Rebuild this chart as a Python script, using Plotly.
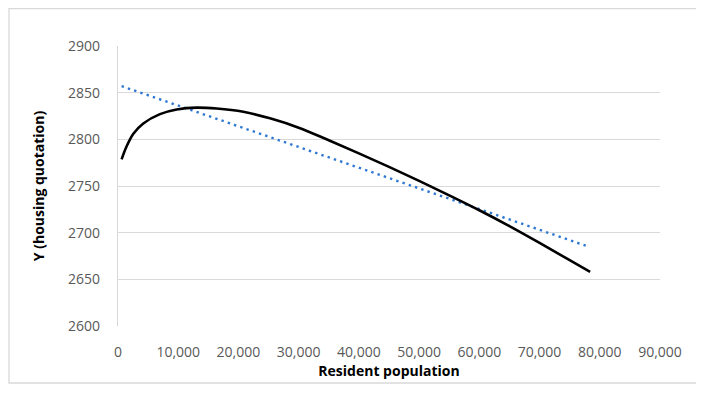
import plotly.graph_objects as go

# Fitted curve (black)
curve_x = [600, 1400, 2550, 4200, 6970, 9740, 13070, 16390, 20800, 25240,
           30000, 35000, 40000, 45000, 50000, 55000, 60000, 65000, 70000, 75000, 78400]
curve_y = [2778.5, 2792, 2806, 2817, 2827, 2832, 2834, 2833, 2829.5, 2822.5,
           2812.5, 2799, 2785, 2770.5, 2755.5, 2740, 2724, 2707, 2689, 2670.5, 2658]

# Linear trend line (blue dotted), end points
trend_x = [600, 77700]
trend_y = [2857, 2686]

x_ticks = [0, 10000, 20000, 30000, 40000, 50000, 60000, 70000, 80000, 90000]
y_ticks = [2600, 2650, 2700, 2750, 2800, 2850, 2900]

font_family = "Open Sans, Liberation Sans, sans-serif"

fig = go.Figure()
fig.add_trace(go.Scatter(x=trend_x, y=trend_y, mode="lines",
                         line=dict(color="#2E78D2", width=2.4, dash="2.4px,4.2px"),
                         showlegend=False))
fig.add_trace(go.Scatter(x=curve_x, y=curve_y, mode="lines",
                         line=dict(color="#000000", width=2.6, shape="spline", smoothing=1.0),
                         showlegend=False))

# page body has an 8px default margin, so the figure is shifted by 8px
fig.update_layout(
    width=696, height=385,
    margin=dict(l=110, r=44, t=38, b=67),
    paper_bgcolor="white", plot_bgcolor="white",
    font=dict(family=font_family, color="#595959", size=14),
    xaxis=dict(range=[0, 90000], tickvals=x_ticks, tickformat=",d",
               showgrid=False, zeroline=False, showline=False,
               ticks="", ticklabelstandoff=16,
               tickfont=dict(size=14, color="#595959"),
               title=dict(text="<b>Resident population</b>", standoff=4,
                          font=dict(size=14, color="#000000"))),
    yaxis=dict(range=[2600, 2900], tickvals=y_ticks,
               showgrid=True, gridcolor="#D9D9D9", gridwidth=1.3,
               zeroline=False, showline=True, linecolor="#D9D9D9", linewidth=1.3,
               ticks="", ticklabelstandoff=14,
               tickfont=dict(size=14, color="#595959"),
               title=dict(text="<b>Y (housing quotation)</b>", standoff=20,
                          font=dict(size=14, color="#000000"))),
    shapes=[dict(type="rect", xref="paper", yref="paper",
                 x0=-0.2011, x1=1.0683, y0=-0.2036, y1=1.1332,
                 line=dict(color="#D9D9D9", width=1.3), fillcolor="rgba(0,0,0,0)")],
)

fig.write_html("out.html")
